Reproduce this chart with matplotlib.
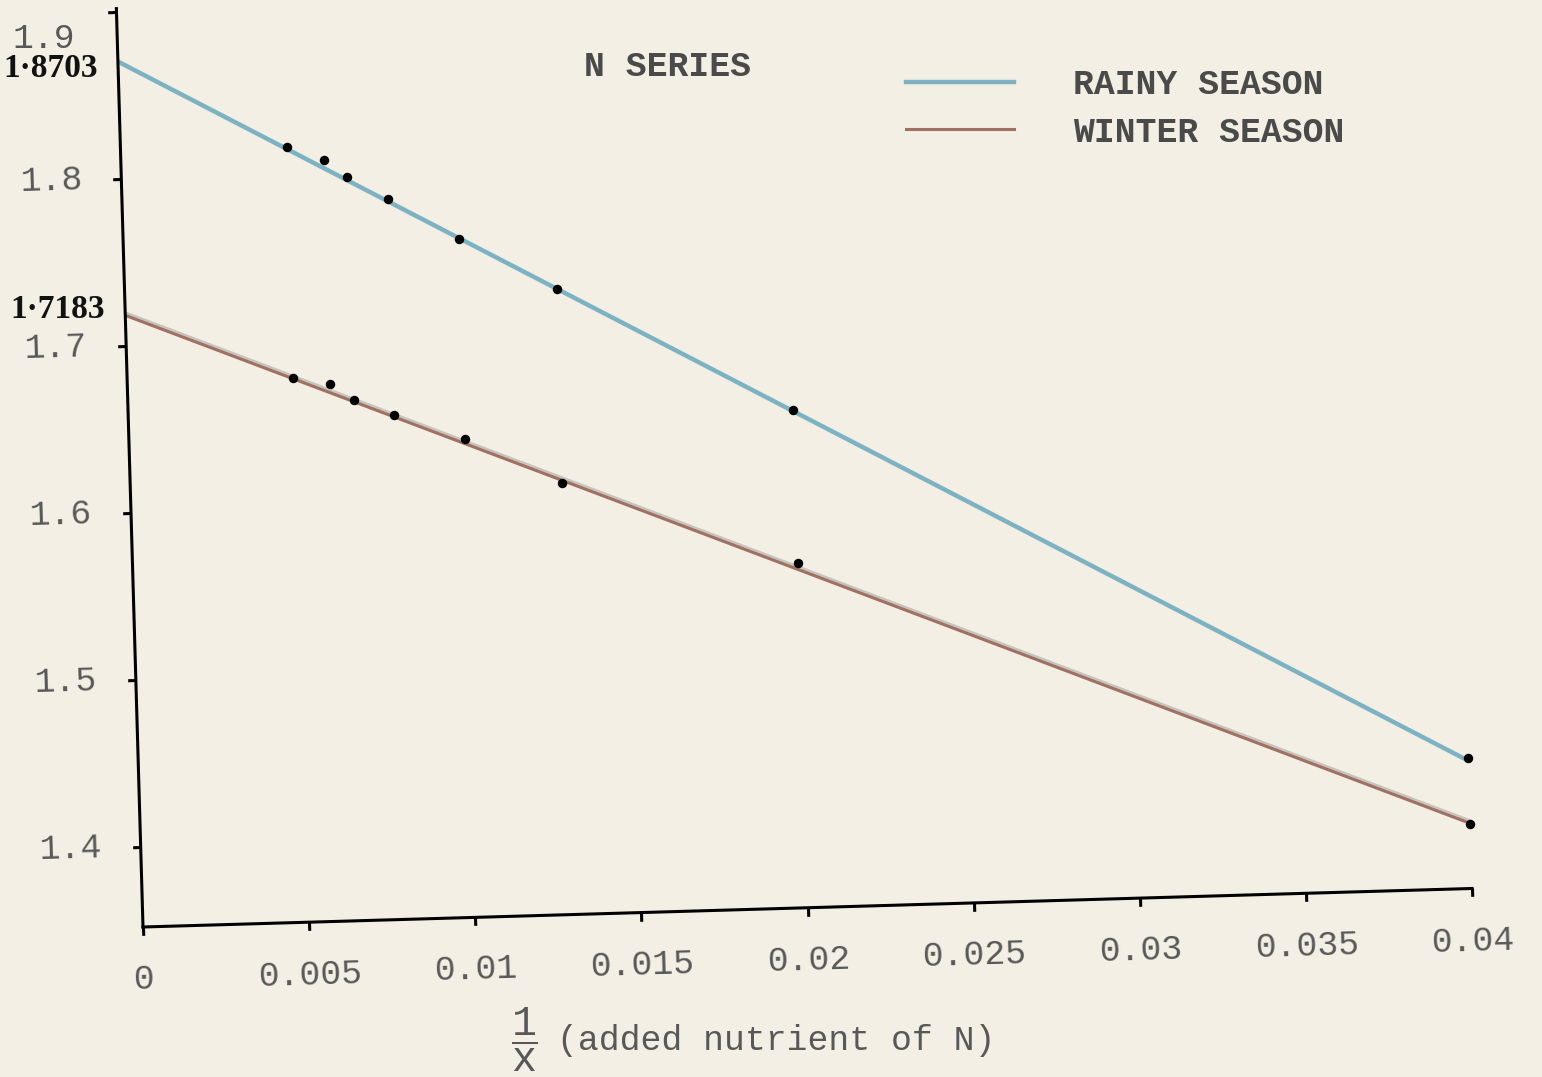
import matplotlib
matplotlib.use('Agg')
import matplotlib.pyplot as plt
import matplotlib.patheffects as pe
from matplotlib.transforms import Affine2D
from matplotlib.lines import Line2D
import mpl_toolkits.axisartist.floating_axes as floating_axes
from mpl_toolkits.axisartist.grid_finder import FixedLocator, DictFormatter

# colores
paper = '#F3EFE4'
ink = '#585858'
rainy_color = '#7DB2C3'
winter_color = '#A07062'

# datos: 1/x (nutriente agregado de N)
inv_n = [0.005, 0.0061, 0.0068, 0.008, 0.0101, 0.013, 0.020, 0.040]
rainy_y = [1.8162, 1.8081, 1.7972, 1.7834, 1.7585, 1.7266, 1.6503, 1.4304]
winter_y = [1.6777, 1.6739, 1.6636, 1.6542, 1.6382, 1.6107, 1.5585, 1.3908]

# rectas ajustadas (intercepto en 1/x = 0)
fit_x = [0.0, 0.040]
rainy_fit = [1.8703, 1.4285]
winter_fit = [1.7183, 1.3910]

x_ticks = [0.0, 0.005, 0.01, 0.015, 0.02, 0.025, 0.03, 0.035, 0.04]
x_labels = ['0', '0.005', '0.01', '0.015', '0.02', '0.025', '0.03', '0.035', '0.04']
y_ticks = [1.4, 1.5, 1.6, 1.7, 1.8, 1.9]
y_labels = ['1.4', '1.5', '1.6', '1.7', '1.8', '']

series_names = ['RAINY SEASON', 'WINTER SEASON']

W, H = 1542, 1077
x0, x1 = 0.0, 0.04
y0, y1 = 1.352, 1.902
sx = 166.2 / 0.005     # px por unidad de 1/x
sy = 167.05 / 0.1      # px por unidad de y
tilt = 1.66            # la hoja quedo un poco girada
ox, oy = 143, 150      # esquina del origen en px (desde abajo)

typ = 'Liberation Mono'
fs = 25

plt.rcParams['mathtext.fontset'] = 'custom'
plt.rcParams['mathtext.rm'] = typ
plt.rcParams['mathtext.it'] = typ

fig = plt.figure(figsize=(W / 100, H / 100), dpi=100, facecolor=paper)

tr = Affine2D().translate(0, -y0).scale(sx, sy).rotate_deg(tilt)
gh = floating_axes.GridHelperCurveLinear(
    tr, extremes=(x0, x1, y0, y1),
    grid_locator1=FixedLocator(x_ticks),
    grid_locator2=FixedLocator(y_ticks),
    tick_formatter1=DictFormatter(dict(zip(x_ticks, x_labels))),
    tick_formatter2=DictFormatter(dict(zip(y_ticks, y_labels))))

ax = fig.add_axes([0, 0, 1, 1], axes_class=floating_axes.FloatingAxes, grid_helper=gh)
xl = ax.get_xlim()
yl = ax.get_ylim()
ax.set_position([(ox + xl[0]) / W, (oy + yl[0]) / H, (xl[1] - xl[0]) / W, (yl[1] - yl[0]) / H])
ax.patch.set_facecolor('none')
ax.patch.set_edgecolor('none')

ax.axis['top'].set_visible(False)
ax.axis['right'].set_visible(False)
for side in ['left', 'bottom']:
    a = ax.axis[side]
    a.line.set_linewidth(2.2)
    a.line.set_color('black')
    a.major_ticks.set_tick_out(True)
    a.major_ticks.set_ticksize(6)
    a.major_ticks.set_markeredgewidth(2.2)
    a.major_ticks.set_color('black')
    a.major_ticklabels.set_fontfamily(typ)
    a.major_ticklabels.set_fontsize(fs)
    a.major_ticklabels.set_color(ink)
ax.axis['left'].major_ticklabels.set_pad(22)
ax.axis['bottom'].major_ticklabels.set_pad(22)

aux = ax.get_aux_axes(tr)

aux.plot(fit_x, rainy_fit, color=rainy_color, lw=3.2, solid_capstyle='butt')
aux.plot(fit_x, winter_fit, color=winter_color, lw=2.2, solid_capstyle='butt',
         path_effects=[pe.SimpleLineShadow(offset=(0.6, 1.6), shadow_color='#9a9a9a', alpha=0.5),
                       pe.Normal()])
aux.plot(inv_n, rainy_y, 'o', color='black', ms=5.8, clip_on=False)
aux.plot(inv_n, winter_y, 'o', color='black', ms=5.8, clip_on=False)

# interceptos escritos a mano junto al eje
for val, dy in [(rainy_fit[0], -0.004), (winter_fit[0], 0.004)]:
    aux.text(-0.0006, val + dy, ('%.4f' % val).replace('.', '\u00b7'), ha='right', va='center',
             family='Liberation Serif', weight='bold', fontsize=24, color='#111111')
aux.text(-0.00126, 1.8846, '1.9', ha='right', va='center', family=typ, fontsize=fs, color=ink)

fig.text(668 / W, 1 - 66 / H, 'N SERIES', ha='center', va='center', family=typ,
         fontsize=fs, color='#4a4a4a', weight='bold')

handles = [Line2D([], [], color=rainy_color, lw=3.2), Line2D([], [], color=winter_color, lw=2.2)]
fig.legend(handles, series_names, loc='upper left', bbox_to_anchor=(906 / W, 1 - 68 / H),
           frameon=False, prop={'family': typ, 'size': fs, 'weight': 'bold'},
           handlelength=3.1, handletextpad=1.7, labelspacing=0.42, borderpad=0, borderaxespad=0,
           labelcolor='#4a4a4a')

# etiqueta del eje x: 1/x (added nutrient of N)
fig.text(524 / W, 1 - 1040 / H, r'$\dfrac{\mathrm{1}}{\mathrm{x}}$', ha='center', va='center',
         fontsize=30, color=ink)
fig.text(557 / W, 1 - 1050 / H, '(added nutrient of N)', ha='left', va='baseline', family=typ,
         fontsize=fs, color=ink)

fig.savefig('out.png', dpi=100, facecolor=paper)
